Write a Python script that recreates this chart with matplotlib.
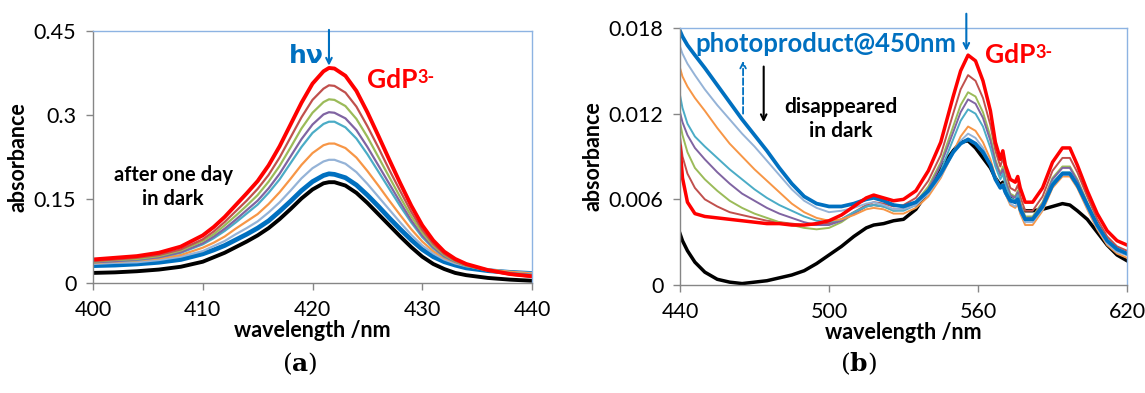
import matplotlib.pyplot as plt

plt.rcParams['font.family'] = ['Lato', 'DejaVu Sans']

# ---------------- panel (a): Soret band ----------------
wl_a = [400, 402, 404, 406, 408, 410, 411, 412, 413, 414, 415, 416, 417, 418, 419, 420,
        421, 421.5, 422, 423, 424, 425, 426, 427, 428, 429, 430, 431, 432, 433, 434, 436, 438, 440]

a_red = [.042, .045, .048, .054, .065, .085, .100, .118, .139, .160, .182, .210, .244, .283, .322, .356,
         .378, .384, .383, .370, .343, .305, .263, .220, .178, .138, .103, .076, .056, .043, .034, .023, .016, .012]
a_brown = [.039, .042, .045, .050, .060, .078, .092, .109, .128, .147, .168, .193, .224, .260, .296, .327,
           .347, .353, .352, .340, .315, .280, .242, .202, .164, .127, .095, .070, .052, .040, .032, .022, .015, .011]
a_green = [.038, .041, .043, .048, .058, .075, .087, .103, .120, .138, .157, .181, .209, .242, .276, .304,
           .323, .328, .327, .316, .293, .261, .225, .189, .153, .119, .090, .067, .050, .039, .031, .022, .016, .013]
a_purple = [.037, .039, .042, .046, .055, .071, .083, .097, .113, .130, .147, .169, .195, .226, .257, .283,
            .301, .305, .304, .294, .273, .243, .210, .177, .144, .112, .085, .064, .048, .038, .031, .022, .017, .014]
a_teal = [.037, .039, .041, .046, .054, .069, .080, .093, .108, .124, .140, .161, .185, .214, .243, .268,
          .284, .288, .288, .278, .258, .230, .199, .168, .137, .108, .082, .062, .047, .038, .031, .023, .018, .015]
a_orange = [.036, .038, .040, .044, .050, .063, .072, .083, .097, .110, .123, .141, .162, .186, .211, .232,
            .246, .249, .249, .241, .224, .200, .174, .147, .121, .096, .074, .057, .045, .037, .031, .024, .020, .017]
a_lightblue = [.034, .036, .037, .041, .047, .057, .066, .075, .087, .098, .110, .126, .144, .165, .187, .205,
               .217, .220, .220, .213, .198, .177, .154, .131, .108, .086, .067, .053, .042, .035, .030, .024, .020, .018]
a_blue = [.031, .032, .034, .037, .042, .052, .059, .067, .077, .087, .098, .111, .128, .146, .165, .181,
          .192, .195, .194, .188, .175, .157, .137, .116, .096, .077, .060, .047, .038, .032, .027, .022, .019, .017]
a_black = [.018, .019, .021, .024, .029, .038, .046, .054, .064, .074, .085, .098, .114, .132, .151, .167,
           .178, .180, .180, .174, .161, .143, .123, .103, .083, .064, .047, .034, .025, .018, .014, .009, .006, .004]

# ---------------- panel (b): Q bands ----------------
wl_b = [440, 441, 443, 446, 450, 455, 460, 465, 470, 475, 480, 485, 490, 495, 500, 505, 510, 515, 518, 522,
        526, 530, 535, 540, 545, 550, 553, 556, 559, 562, 565, 567, 569, 570, 571, 573, 575, 576, 577, 579,
        582, 586, 590, 594, 597, 600, 604, 608, 612, 616, 620]

b_red = [.0097, .0075, .0058, .0050, .0048, .0047, .0046, .0045, .0044, .0043, .0043, .0042, .0042, .0043, .0045,
         .0049, .0055, .0061, .0063, .0061, .0059, .0060, .0066, .0080, .0100, .0132, .0150, .0161, .0157, .0143,
         .0122, .0100, .0088, .0094, .0084, .0074, .0072, .0076, .0068, .0058, .0058, .0068, .0086, .0096, .0096,
         .0084, .0066, .0050, .0038, .0031, .0028]
b_brown = [.0104, .0090, .0078, .0068, .0060, .0055, .0051, .0049, .0047, .0045, .0044, .0043, .0042, .0042, .0043,
           .0046, .0051, .0056, .0058, .0057, .0055, .0056, .0061, .0073, .0091, .0120, .0137, .0147, .0143, .0131,
           .0112, .0094, .0083, .0089, .0080, .0068, .0066, .0070, .0062, .0052, .0052, .0062, .0080, .0089, .0089,
           .0079, .0062, .0046, .0034, .0027, .0024]
b_green = [.0114, .0105, .0093, .0082, .0074, .0066, .0059, .0054, .0050, .0047, .0044, .0042, .0040, .0039, .0040,
           .0044, .0050, .0055, .0056, .0055, .0052, .0053, .0058, .0069, .0086, .0111, .0126, .0135, .0132, .0121,
           .0104, .0088, .0078, .0083, .0075, .0064, .0062, .0066, .0058, .0048, .0048, .0058, .0075, .0083, .0083,
           .0074, .0058, .0043, .0032, .0025, .0022]
b_purple = [.0121, .0114, .0105, .0096, .0088, .0079, .0071, .0064, .0059, .0054, .0050, .0047, .0044, .0042, .0042,
            .0045, .0050, .0055, .0056, .0055, .0053, .0053, .0057, .0067, .0084, .0107, .0121, .0130, .0127, .0117,
            .0101, .0086, .0077, .0081, .0073, .0063, .0061, .0065, .0057, .0047, .0047, .0057, .0074, .0082, .0082,
            .0073, .0057, .0042, .0031, .0025, .0022]
b_teal = [.0133, .0124, .0113, .0104, .0097, .0089, .0081, .0074, .0067, .0061, .0056, .0052, .0048, .0045, .0044,
          .0046, .0051, .0055, .0056, .0055, .0052, .0052, .0056, .0065, .0080, .0102, .0115, .0123, .0120, .0111,
          .0096, .0083, .0074, .0078, .0070, .0061, .0059, .0063, .0055, .0046, .0046, .0055, .0072, .0079, .0079,
          .0071, .0056, .0041, .0030, .0024, .0021]
b_orange = [.0152, .0146, .0139, .0131, .0122, .0110, .0099, .0090, .0081, .0073, .0065, .0057, .0051, .0047, .0045,
            .0046, .0049, .0053, .0054, .0053, .0050, .0050, .0054, .0062, .0075, .0093, .0104, .0111, .0108, .0100,
            .0088, .0076, .0068, .0071, .0064, .0056, .0054, .0057, .0050, .0042, .0042, .0052, .0068, .0076, .0076,
            .0068, .0053, .0039, .0028, .0022, .0019]
b_lightblue = [.0167, .0162, .0155, .0147, .0137, .0126, .0116, .0106, .0097, .0087, .0077, .0067, .0059, .0054, .0051,
               .0052, .0054, .0057, .0058, .0056, .0053, .0053, .0056, .0064, .0076, .0092, .0101, .0106, .0103, .0096,
               .0085, .0075, .0068, .0070, .0064, .0057, .0055, .0058, .0051, .0044, .0044, .0053, .0069, .0077, .0077,
               .0069, .0054, .0040, .0029, .0023, .0021]
b_blue = [.0178, .0174, .0168, .0161, .0152, .0140, .0128, .0116, .0105, .0094, .0082, .0071, .0062, .0057, .0055,
          .0055, .0057, .0060, .0061, .0059, .0056, .0055, .0058, .0066, .0078, .0093, .0099, .0102, .0099, .0093,
          .0084, .0074, .0068, .0070, .0065, .0059, .0058, .0060, .0053, .0046, .0046, .0055, .0070, .0078, .0078,
          .0070, .0056, .0042, .0031, .0025, .0022]
b_black = [.0036, .0031, .0024, .0016, .0009, .0004, .0002, .0001, .0002, .0003, .0005, .0007, .0010, .0015, .0021,
           .0027, .0034, .0040, .0042, .0043, .0045, .0046, .0053, .0066, .0082, .0094, .0100, .0101, .0096, .0089,
           .0082, .0075, .0070, .0072, .0066, .0061, .0058, .0059, .0054, .0052, .0052, .0053, .0055, .0057, .0056,
           .0052, .0046, .0037, .0028, .0021, .0017]

colors = {'red': '#FF0000', 'brown': '#C0504D', 'green': '#9BBB59', 'purple': '#8064A2', 'teal': '#4BACC6',
          'orange': '#F79646', 'lightblue': '#95B3D7', 'blue': '#0070C0', 'black': '#000000'}
hv_blue = '#0070C0'
tick_fs = 15.5
label_fs = 15.5

fig = plt.figure(figsize=(11.45, 3.93), dpi=100)
ax1 = fig.add_axes([93 / 1145, 1 - 283 / 393, 439 / 1145, 252 / 393])
ax2 = fig.add_axes([680 / 1145, 1 - 285 / 393, 447 / 1145, 257 / 393])


def style(ax):
    for s in ['left', 'bottom']:
        ax.spines[s].set_color('#868686')
        ax.spines[s].set_linewidth(1.0)
    for s in ['top', 'right']:
        ax.spines[s].set_color('#8DB3E2')
        ax.spines[s].set_linewidth(1.0)
    ax.tick_params(axis='both', direction='out', length=5, width=1.0, color='#868686', labelsize=tick_fs)
    ax.tick_params(axis='x', pad=7)
    ax.tick_params(axis='y', pad=7)


# panel (a)
thin = 1.6
ax1.plot(wl_a, a_black, color=colors['black'], lw=2.8)
ax1.plot(wl_a, a_blue, color=colors['blue'], lw=3.4)
ax1.plot(wl_a, a_lightblue, color=colors['lightblue'], lw=thin)
ax1.plot(wl_a, a_orange, color=colors['orange'], lw=thin)
ax1.plot(wl_a, a_teal, color=colors['teal'], lw=thin)
ax1.plot(wl_a, a_purple, color=colors['purple'], lw=thin)
ax1.plot(wl_a, a_green, color=colors['green'], lw=thin)
ax1.plot(wl_a, a_brown, color=colors['brown'], lw=thin)
ax1.plot(wl_a, a_red, color=colors['red'], lw=2.8)
ax1.set_xlim(400, 440)
ax1.set_ylim(0, 0.45)
ax1.set_xticks([400, 410, 420, 430, 440])
ax1.set_yticks([0, 0.15, 0.3, 0.45])
ax1.set_yticklabels(['0', '0.15', '0.3', '0.45'])
style(ax1)
ax1.set_xlabel('wavelength /nm', fontsize=label_fs, fontweight='bold', labelpad=0)
ax1.set_ylabel('absorbance', fontsize=label_fs, fontweight='bold', labelpad=4)

ax1.annotate('', xy=(421.5, 0.388), xytext=(421.5, 0.452), annotation_clip=False,
             arrowprops=dict(arrowstyle='->', color=hv_blue, lw=1.5, shrinkA=0, shrinkB=0))
ax1.text(421.0, 0.405, 'hν', color=hv_blue, fontsize=18, fontweight='bold', ha='right', va='center',
         family=['DejaVu Sans'])
g1 = ax1.text(425.0, 0.362, 'GdP', color='#FF0000', fontsize=19, fontweight='bold', ha='left', va='center')
ax1.annotate('3-', xy=(1.0, 0.98), xycoords=g1, color='#FF0000', fontsize=13, fontweight='bold',
             ha='left', va='top')
ax1.text(407.3, 0.171, 'after one day\nin dark', fontsize=14.5, fontweight='bold', ha='center', va='center',
         linespacing=1.25)

# panel (b)
thin = 1.4
ax2.plot(wl_b, b_black, color=colors['black'], lw=2.5)
ax2.plot(wl_b, b_brown, color=colors['brown'], lw=thin)
ax2.plot(wl_b, b_green, color=colors['green'], lw=thin)
ax2.plot(wl_b, b_purple, color=colors['purple'], lw=thin)
ax2.plot(wl_b, b_teal, color=colors['teal'], lw=thin)
ax2.plot(wl_b, b_orange, color=colors['orange'], lw=thin)
ax2.plot(wl_b, b_lightblue, color=colors['lightblue'], lw=thin)
ax2.plot(wl_b, b_blue, color=colors['blue'], lw=2.7)
ax2.plot(wl_b, b_red, color=colors['red'], lw=2.5)
ax2.set_xlim(440, 620)
ax2.set_ylim(0, 0.018)
ax2.set_xticks([440, 500, 560, 620])
ax2.set_yticks([0, 0.006, 0.012, 0.018])
ax2.set_yticklabels(['0', '0.006', '0.012', '0.018'])
style(ax2)
ax2.set_xlabel('wavelength /nm', fontsize=label_fs, fontweight='bold', labelpad=0)
ax2.set_ylabel('absorbance', fontsize=label_fs, fontweight='bold', labelpad=4)

ax2.annotate('', xy=(555.3, 0.0164), xytext=(555.3, 0.0190), annotation_clip=False,
             arrowprops=dict(arrowstyle='->', color=hv_blue, lw=1.5, shrinkA=0, shrinkB=0))
ax2.text(446.3, 0.0169, 'photoproduct@450nm', color=hv_blue, fontsize=18.5, fontweight='bold',
         ha='left', va='center')
g2 = ax2.text(563.0, 0.0161, 'GdP', color='#FF0000', fontsize=19, fontweight='bold', ha='left', va='center')
ax2.annotate('3-', xy=(1.0, 0.98), xycoords=g2, color='#FF0000', fontsize=13, fontweight='bold',
             ha='left', va='top')
ax2.annotate('', xy=(465.4, 0.0157), xytext=(465.4, 0.0120),
             arrowprops=dict(arrowstyle='->', color=hv_blue, lw=1.3, linestyle='--', shrinkA=0, shrinkB=0))
ax2.annotate('', xy=(473.7, 0.0114), xytext=(473.7, 0.0153),
             arrowprops=dict(arrowstyle='->', color='black', lw=1.5, shrinkA=0, shrinkB=0))
ax2.text(504.8, 0.0116, 'disappeared\nin dark', fontsize=15, fontweight='bold', ha='center', va='center',
         linespacing=1.25)

# panel letters
fig.text(300 / 1145, 1 - 364 / 393, r'($\mathbf{a}$)', fontsize=18, family='DejaVu Serif',
         ha='center', va='center', math_fontfamily='dejavuserif')
fig.text(858 / 1145, 1 - 364 / 393, r'($\mathbf{b}$)', fontsize=18, family='DejaVu Serif',
         ha='center', va='center', math_fontfamily='dejavuserif')

fig.savefig('out.png', dpi=100)
